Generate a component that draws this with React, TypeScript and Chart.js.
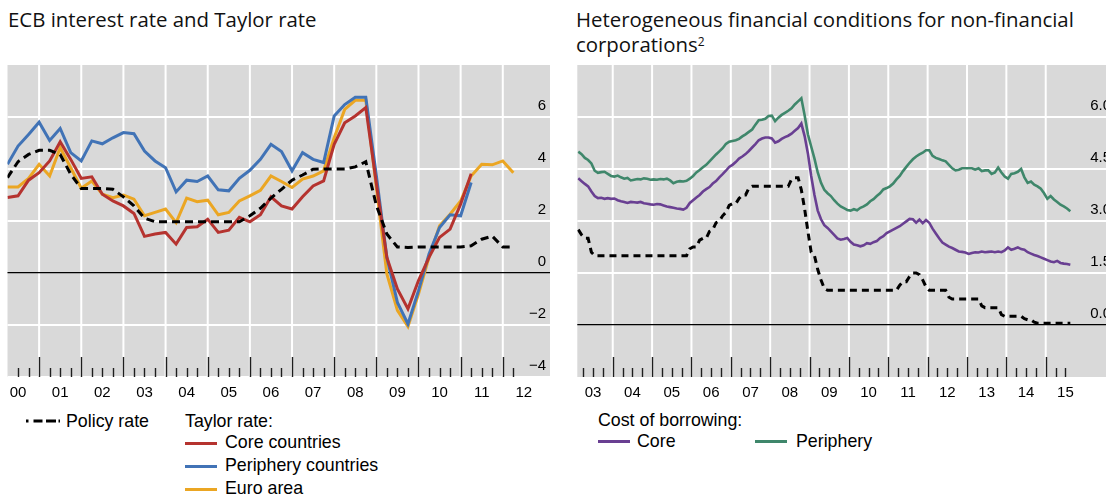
import React, { useEffect, useRef } from 'react';
import { Chart, registerables } from 'chart.js';
Chart.register(...registerables);

// ---------- Left panel: ECB policy rate and Taylor rates (quarterly, from 2000 Q2) ----------
const leftFirstQuarter = 2000.25;
const leftYearLabels = ['00', '01', '02', '03', '04', '05', '06', '07', '08', '09', '10', '11', '12'];
const leftYTicks = [-4, -2, 0, 2, 4, 6, 8];
const policyRateQ = [3.67, 4.28, 4.56, 4.72, 4.72, 4.56, 3.8, 3.25, 3.25, 3.25, 3.22, 2.93, 2.58, 2.11, 1.97, 1.97, 1.97, 1.97, 1.97, 1.97, 1.97, 1.97, 1.97, 2.2, 2.49, 2.88, 3.22, 3.57, 3.77, 3.99, 4.0, 4.0, 4.0, 4.08, 4.28, 2.6, 1.5, 1.0, 0.98, 1.0, 1.0, 1.0, 1.0, 1.0, 1.05, 1.3, 1.42, 1.0, 1.0];
const taylorCore = [2.9, 2.97, 3.57, 3.86, 4.31, 5.05, 4.37, 3.64, 3.7, 3.03, 2.77, 2.58, 2.29, 1.41, 1.5, 1.56, 1.11, 1.75, 1.78, 2.07, 1.56, 1.65, 2.14, 1.97, 2.24, 2.93, 2.58, 2.46, 2.93, 3.35, 3.54, 4.95, 5.78, 6.04, 6.36, 3.45, 0.6, -0.61, -1.38, -0.29, 0.6, 1.37, 1.69, 2.65, 3.82, null, null, null, null];
const taylorPeriphery = [4.18, 4.88, 5.33, 5.8, 5.1, 5.56, 4.63, 4.31, 5.08, 4.97, 5.2, 5.4, 5.36, 4.69, 4.31, 4.05, 3.12, 3.57, 3.52, 3.73, 3.2, 3.16, 3.64, 3.95, 4.37, 4.95, 4.67, 3.93, 4.63, 4.37, 4.25, 6.04, 6.48, 6.76, 6.76, 3.75, 0.6, -1.13, -1.96, -0.68, 0.73, 1.75, 2.24, 2.2, 3.48, null, null, null, null];
const taylorEuro = [3.31, 3.31, 3.64, 4.18, 3.73, 4.82, 4.05, 3.26, 3.54, 3.03, 2.9, 3.0, 2.84, 2.2, 2.33, 2.46, 1.94, 2.88, 2.74, 2.8, 2.24, 2.33, 2.77, 2.97, 3.18, 3.73, 3.52, 3.29, 3.61, 3.73, 3.93, 5.2, 6.29, 6.64, 6.64, 3.3, -0.04, -1.44, -2.06, -0.81, 0.6, 1.82, 2.26, 2.77, 3.73, 4.18, 4.16, 4.31, 3.86];

// ---------- Right panel: cost of borrowing (monthly, Feb 2003 - Aug 2015) ----------
const rightFirstYear = 2003;
const rightFirstMonth = 2;
const rightYearLabels = ['03', '04', '05', '06', '07', '08', '09', '10', '11', '12', '13', '14', '15'];
const rightYTicks = [-1.5, 0, 1.5, 3, 4.5, 6, 7.5];
const policyRateM = [
  2.75, 2.6, 2.5, 2.5, 2.1, 2.0, 2.0, 2.0, 2.0, 2.0, 2.0,
  2.0, 2.0, 2.0, 2.0, 2.0, 2.0, 2.0, 2.0, 2.0, 2.0, 2.0, 2.0,
  2.0, 2.0, 2.0, 2.0, 2.0, 2.0, 2.0, 2.0, 2.0, 2.0, 2.0, 2.2,
  2.25, 2.25, 2.45, 2.5, 2.5, 2.7, 2.75, 2.95, 3.0, 3.15, 3.25, 3.45,
  3.5, 3.5, 3.65, 3.75, 3.75, 3.95, 4.0, 4.0, 4.0, 4.0, 4.0, 4.0,
  4.0, 4.0, 4.0, 4.0, 4.0, 4.0, 4.2, 4.25, 4.25, 3.9, 3.35, 2.7,
  2.1, 2.0, 1.6, 1.3, 1.05, 1.0, 1.0, 1.0, 1.0, 1.0, 1.0, 1.0,
  1.0, 1.0, 1.0, 1.0, 1.0, 1.0, 1.0, 1.0, 1.0, 1.0, 1.0, 1.0,
  1.0, 1.0, 1.0, 1.15, 1.25, 1.25, 1.4, 1.5, 1.5, 1.45, 1.3, 1.1,
  1.0, 1.0, 1.0, 1.0, 1.0, 1.0, 0.8, 0.75, 0.75, 0.75, 0.75, 0.75,
  0.75, 0.75, 0.75, 0.75, 0.55, 0.5, 0.5, 0.5, 0.5, 0.5, 0.3, 0.25,
  0.25, 0.25, 0.25, 0.25, 0.25, 0.18, 0.15, 0.15, 0.08, 0.05, 0.05, 0.05,
  0.05, 0.05, 0.05, 0.05, 0.05, 0.05, 0.05, 0.05,
];
const borrowingCore = [
  4.23, 4.15, 4.07, 4.0, 3.85, 3.72, 3.66, 3.67, 3.64, 3.66, 3.64,
  3.65, 3.6, 3.57, 3.55, 3.52, 3.55, 3.54, 3.53, 3.55, 3.51, 3.5, 3.48,
  3.47, 3.49, 3.48, 3.45, 3.42, 3.4, 3.38, 3.36, 3.35, 3.33, 3.38, 3.52,
  3.6, 3.68, 3.75, 3.85, 3.92, 3.98, 4.08, 4.15, 4.26, 4.35, 4.45, 4.56,
  4.62, 4.7, 4.8, 4.86, 4.93, 5.02, 5.12, 5.22, 5.33, 5.38, 5.41, 5.41,
  5.38, 5.26, 5.3, 5.37, 5.42, 5.46, 5.52, 5.6, 5.68, 5.81, 5.45, 4.95,
  4.3, 3.75, 3.3, 3.05, 2.88, 2.8, 2.7, 2.6, 2.5, 2.46, 2.48, 2.51,
  2.4, 2.32, 2.3, 2.27, 2.3, 2.36, 2.34, 2.39, 2.42, 2.51, 2.56, 2.65,
  2.7, 2.75, 2.8, 2.85, 2.92, 2.99, 3.06, 3.05, 2.95, 3.04, 2.94, 3.03,
  2.95, 2.78, 2.64, 2.5, 2.38, 2.32, 2.26, 2.22, 2.17, 2.12, 2.11, 2.09,
  2.05, 2.08, 2.1, 2.09, 2.12, 2.1, 2.11, 2.12, 2.1, 2.12, 2.1, 2.15,
  2.24, 2.17, 2.2, 2.24, 2.19, 2.17, 2.1, 2.06, 2.02, 1.99, 1.95, 1.91,
  1.87, 1.83, 1.81, 1.85, 1.79, 1.77, 1.76, 1.74,
];
const borrowingPeriphery = [
  5.0, 4.93, 4.82, 4.76, 4.66, 4.45, 4.39, 4.41, 4.42, 4.36, 4.3,
  4.28, 4.31, 4.26, 4.22, 4.24, 4.17, 4.19, 4.21, 4.2, 4.23, 4.22, 4.19,
  4.2, 4.19, 4.21, 4.2, 4.22, 4.17, 4.09, 4.13, 4.15, 4.14, 4.16, 4.22,
  4.3, 4.4, 4.47, 4.55, 4.62, 4.72, 4.82, 4.92, 5.01, 5.1, 5.22, 5.29,
  5.31, 5.33, 5.37, 5.44, 5.5, 5.57, 5.64, 5.78, 5.91, 5.92, 5.95, 6.03,
  6.04, 5.88, 5.98, 6.06, 6.12, 6.18, 6.25, 6.36, 6.45, 6.54, 6.05, 5.5,
  5.15, 4.8, 4.4, 4.1, 3.9, 3.8, 3.72, 3.6, 3.5, 3.42, 3.37, 3.32,
  3.3, 3.34, 3.31, 3.38, 3.42, 3.48, 3.57, 3.63, 3.72, 3.8, 3.91, 3.95,
  4.0, 4.08, 4.2, 4.3, 4.44, 4.56, 4.68, 4.78, 4.86, 4.92, 4.97, 5.04,
  5.04, 4.88, 4.82, 4.79, 4.75, 4.72, 4.62, 4.52, 4.46, 4.48, 4.52, 4.52,
  4.52, 4.52, 4.48, 4.52, 4.44, 4.46, 4.46, 4.36, 4.4, 4.54, 4.4, 4.28,
  4.22, 4.36, 4.38, 4.42, 4.5, 4.26, 4.1, 4.14, 4.05, 4.0, 3.93, 3.8,
  3.64, 3.72, 3.62, 3.55, 3.47, 3.42, 3.36, 3.28,
];

// ---------- styling ----------
const COLORS = {
  bg: '#d9d9d9',
  red: '#b5332f',
  blue: '#4173b6',
  orange: '#eba623',
  green: '#3f876b',
  purple: '#693f92',
  black: '#000000',
};
const TICK_FONT = { family: "'Liberation Sans', Arial, sans-serif", size: 15 };
const LEGEND_FONT = "'Liberation Sans', Arial, sans-serif";
const TITLE_FONT = "'Open Sans', 'Noto Sans', sans-serif";

const fmtLeft = (v: number) => (v < 0 ? '\u2212' + Math.abs(v) : String(v));
const fmtRight = (v: number) => v.toFixed(1);

function framePlugin(gridYears: number[], tickPositions: number[]) {
  return {
    id: 'frame',
    beforeDraw(chart: any) {
      const { ctx, chartArea } = chart;
      const { left, right, top, bottom } = chartArea;
      const x = chart.scales.x;
      ctx.save();
      ctx.fillStyle = COLORS.bg;
      ctx.fillRect(left, top, right - left, bottom - top);
      ctx.strokeStyle = '#ffffff';
      ctx.lineWidth = 2;
      for (const yr of gridYears) {
        const px = x.getPixelForValue(yr);
        ctx.beginPath();
        ctx.moveTo(px, top);
        ctx.lineTo(px, bottom);
        ctx.stroke();
      }
      ctx.restore();
    },
    afterDatasetsDraw(chart: any) {
      const { ctx, chartArea } = chart;
      const x = chart.scales.x;
      ctx.save();
      ctx.strokeStyle = '#1e1e1e';
      ctx.lineWidth = 1.4;
      for (const t of tickPositions) {
        const px = Math.round(x.getPixelForValue(t)) + 0.5;
        const len = Math.abs(t - Math.round(t)) < 1e-6 ? 20 : 9;
        ctx.beginPath();
        ctx.moveTo(px, chartArea.bottom);
        ctx.lineTo(px, chartArea.bottom - len);
        ctx.stroke();
      }
      ctx.restore();
    },
  };
}

function yearRange(a: number, b: number) {
  const out: number[] = [];
  for (let y = a; y <= b; y++) out.push(y);
  return out;
}
function quarterRange(a: number, b: number) {
  const out: number[] = [];
  for (let q = a; q <= b + 1e-9; q += 0.25) out.push(Math.round(q * 100) / 100);
  return out;
}

function makeOptions(cfg: {
  xMin: number; xMax: number; labelPos: number[]; labels: string[];
  yMin: number; yMax: number; yTicks: number[]; fmt: (v: number) => string; hidden: number[];
  padLeft: number; padRight: number;
}) {
  return {
    responsive: false,
    animation: false,
    events: [],
    layout: { padding: { left: cfg.padLeft, right: cfg.padRight, top: 5, bottom: 0 } },
    plugins: { legend: { display: false }, tooltip: { enabled: false }, title: { display: false } },
    elements: { point: { radius: 0 }, line: { tension: 0 } },
    scales: {
      x: {
        type: 'linear',
        min: cfg.xMin,
        max: cfg.xMax,
        afterBuildTicks: (s: any) => { s.ticks = cfg.labelPos.map((v) => ({ value: v })); },
        afterFit: (s: any) => { s.height = 30; },
        grid: { display: false, drawTicks: false },
        border: { display: false },
        ticks: {
          autoSkip: false, maxRotation: 0, minRotation: 0, padding: 7,
          color: '#000', font: TICK_FONT,
          callback: (_v: any, i: number) => cfg.labels[i],
        },
      },
      y: {
        position: 'right',
        min: cfg.yMin,
        max: cfg.yMax,
        afterBuildTicks: (s: any) => { s.ticks = cfg.yTicks.map((v) => ({ value: v })); },
        afterFit: (s: any) => { s.width = 0; },
        border: { display: false },
        grid: {
          drawTicks: false,
          color: (c: any) => {
            const v = c.tick ? c.tick.value : NaN;
            if (v === 0) return '#000';
            if (cfg.hidden.includes(v)) return 'rgba(0,0,0,0)';
            return '#ffffff';
          },
          lineWidth: (c: any) => (c.tick && c.tick.value === 0 ? 1.2 : 2),
        },
        ticks: {
          mirror: true, padding: -4, labelOffset: -11, color: '#000', font: TICK_FONT,
          callback: (v: any) => (cfg.hidden.includes(v) ? '' : cfg.fmt(v)),
        },
      },
    },
  } as any;
}

function LeftChart() {
  const ref = useRef<HTMLCanvasElement>(null);
  useEffect(() => {
    const times = policyRateQ.map((_, i) => leftFirstQuarter + i * 0.25);
    const pts = (arr: (number | null)[]) => arr.map((v, i) => ({ x: times[i], y: v }));
    const labelPos = leftYearLabels.map((_, i) => 2000.5 + i);
    const chart = new Chart(ref.current!, {
      type: 'line',
      data: {
        datasets: [
          { label: 'Policy rate', data: pts(policyRateQ), borderColor: COLORS.black, borderWidth: 3, borderDash: [8, 5], borderCapStyle: 'butt' },
          { label: 'Core countries', data: pts(taylorCore), borderColor: COLORS.red, borderWidth: 3 },
          { label: 'Periphery countries', data: pts(taylorPeriphery), borderColor: COLORS.blue, borderWidth: 3 },
          { label: 'Euro area', data: pts(taylorEuro), borderColor: COLORS.orange, borderWidth: 3 },
        ],
      } as any,
      options: makeOptions({
        xMin: 2000.25, xMax: 2013.12, labelPos, labels: leftYearLabels,
        yMin: -4, yMax: 8, yTicks: leftYTicks, fmt: fmtLeft, hidden: [8],
        padLeft: 7.5, padRight: 6,
      }),
      plugins: [framePlugin(yearRange(2001, 2012), quarterRange(2000.5, 2012.25))],
    });
    return () => chart.destroy();
  }, []);
  return <canvas ref={ref} width={556} height={347} style={{ position: 'absolute', left: 0, top: 60 }} />;
}

function RightChart() {
  const ref = useRef<HTMLCanvasElement>(null);
  useEffect(() => {
    const times = policyRateM.map((_, i) => rightFirstYear + (rightFirstMonth - 1 + i + 0.5) / 12);
    const pts = (arr: number[]) => arr.map((v, i) => ({ x: times[i], y: v }));
    const labelPos = rightYearLabels.map((_, i) => 2003.5 + i);
    const chart = new Chart(ref.current!, {
      type: 'line',
      data: {
        datasets: [
          { label: 'Policy rate', data: pts(policyRateM), borderColor: COLORS.black, borderWidth: 3, borderDash: [7, 5], borderCapStyle: 'butt' },
          { label: 'Core', data: pts(borrowingCore), borderColor: COLORS.purple, borderWidth: 2.6 },
          { label: 'Periphery', data: pts(borrowingPeriphery), borderColor: COLORS.green, borderWidth: 2.6 },
        ],
      } as any,
      options: makeOptions({
        xMin: 2003.1, xMax: 2016.76, labelPos, labels: rightYearLabels,
        yMin: -1.5, yMax: 7.5, yTicks: rightYTicks, fmt: fmtRight, hidden: [-1.5, 7.5],
        padLeft: 17.3, padRight: 5,
      }),
      plugins: [framePlugin(yearRange(2004, 2015), quarterRange(2003.25, 2015.5))],
    });
    return () => chart.destroy();
  }, []);
  return <canvas ref={ref} width={560} height={347} style={{ position: 'absolute', left: 560, top: 60 }} />;
}

const abs = (left: number, top: number, extra: any = {}) => ({ position: 'absolute' as const, left, top, ...extra });

function Swatch({ left, center, color, width = 32 }: { left: number; center: number; color: string; width?: number }) {
  return <div style={abs(left, center - 1.5, { width, height: 3, background: color })} />;
}
function LegendText({ left, center, children }: { left: number; center: number; children: any }) {
  return (
    <div style={abs(left, center - 10, { lineHeight: '20px', fontSize: 17.8, fontFamily: LEGEND_FONT, color: '#000', whiteSpace: 'nowrap' })}>
      {children}
    </div>
  );
}

const titleStyle = { fontFamily: TITLE_FONT, fontSize: 20.4, lineHeight: '25px', color: '#111', whiteSpace: 'nowrap' };

export default function App() {
  return (
    <div style={{ position: 'absolute', left: 0, top: 0, width: 1106, height: 497, overflow: 'hidden', background: '#fff' }}>
      <div style={abs(8, 7, titleStyle)}>ECB interest rate and Taylor rate</div>
      <div style={abs(576, 7, titleStyle)}>
        Heterogeneous financial conditions for non-financial
        <br />
        corporations<sup style={{ fontSize: 12, verticalAlign: 'top', position: 'relative', top: -3 }}>2</sup>
      </div>

      <LeftChart />
      <RightChart />

      {/* Left legend */}
      <svg style={abs(26, 418)} width={34} height={6}>
        <line x1={0} y1={3} x2={34} y2={3} stroke="#000" strokeWidth={3} strokeDasharray="2.5 5 9 3.5 10" />
      </svg>
      <LegendText left={66} center={421}>Policy rate</LegendText>
      <LegendText left={185} center={421}>Taylor rate:</LegendText>
      <Swatch left={185} center={443} color={COLORS.red} />
      <LegendText left={225} center={442}>Core countries</LegendText>
      <Swatch left={185} center={466} color={COLORS.blue} />
      <LegendText left={225} center={465}>Periphery countries</LegendText>
      <Swatch left={185} center={489} color={COLORS.orange} />
      <LegendText left={225} center={488}>Euro area</LegendText>

      {/* Right legend */}
      <LegendText left={598} center={420}>Cost of borrowing:</LegendText>
      <Swatch left={598} center={441} color={COLORS.purple} />
      <LegendText left={637} center={441}>Core</LegendText>
      <Swatch left={755} center={441} color={COLORS.green} />
      <LegendText left={796} center={441}>Periphery</LegendText>
    </div>
  );
}
